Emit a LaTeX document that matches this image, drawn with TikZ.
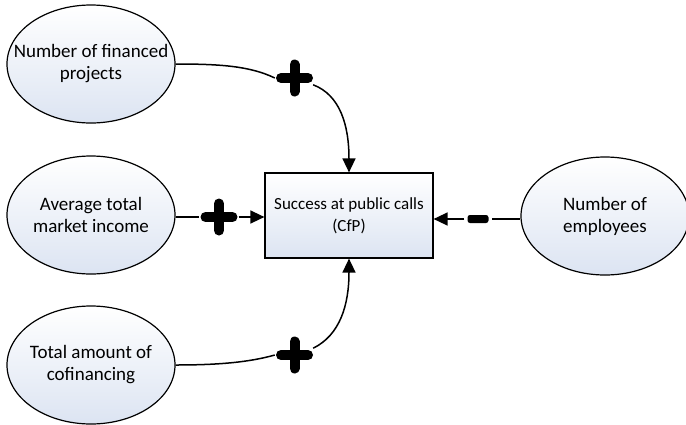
\documentclass[tikz,border=0pt]{standalone}
\usepackage{fontspec}
\setmainfont{Carlito}
\usetikzlibrary{shapes.geometric,arrows.meta}
\definecolor{fillTop}{HTML}{DCE4F2}
\definecolor{fillBot}{HTML}{FFFFFF}
\tikzset{
  ell/.style={ellipse, draw=black, line width=1.2pt, minimum width=168pt, minimum height=118pt, inner sep=0pt, top color=fillBot, bottom color=fillTop},
  etxt/.style={align=center, font=\fontsize{19}{22}\selectfont, inner sep=0pt},
  cfp/.style={rectangle, draw=black, line width=1.2pt, minimum width=168pt, minimum height=85pt, inner sep=0pt, top color=fillBot, bottom color=fillTop, align=center, font=\fontsize{17}{22}\selectfont},
  pluss/.style={minimum size=37pt, inner sep=0pt, path picture={
      \draw[line width=10pt, line cap=round] ([yshift=-5pt]path picture bounding box.north) -- ([yshift=5pt]path picture bounding box.south)
        ([xshift=5pt]path picture bounding box.west) -- ([xshift=-5pt]path picture bounding box.east);}},
  minuss/.style={rectangle, fill=black, rounded corners=2.5pt, minimum width=21pt, minimum height=8pt, inner sep=0pt},
  link/.style={line width=1.5pt},
  arr/.style={link, -{Triangle[length=14pt, width=13pt]}}
}
\begin{document}
\begin{tikzpicture}[x=1pt, y=-1pt]
\useasboundingbox (0,0) rectangle (686,424);
\node[ell] (e1) at (91,64) {};
\node[etxt] (t1) at (e1) {Number of financed\\projects};
\node[ell] (e2) at (91,215) {};
\node[etxt] (t2) at (e2) {Average total\\market income};
\node[ell] (e3) at (91,365) {};
\node[etxt] (t3) at (e3) {Total amount of\\cofinancing};
\node[ell] (e4) at (605,216) {};
\node[etxt] (t4) at (e4) {Number of\\employees};
\node[cfp] (box) at (349,215.5) {Success at public calls\\(CfP)};

\node[pluss] (p1) at (294.5,78) {};
\node[pluss] (p2) at (219,217) {};
\node[pluss] (p3) at (294.5,355) {};
\node[minuss] (m4) at (478,219) {};

\draw[link] (e1.east) .. controls (220,64) and (250,66) .. ([xshift=-1pt]p1.west);
\draw[arr] (p1.-20) .. controls (340,95) and (349,125) .. (box.north);
\draw[link] (e2.east |- p2.west) -- ([xshift=-1pt]p2.west);
\draw[arr] ([xshift=1pt]p2.east) -- (box.west |- p2.east);
\draw[link] (e3.east) .. controls (220,365) and (250,362) .. ([xshift=-1pt]p3.west);
\draw[arr] (p3.20) .. controls (340,335) and (349,305) .. (box.south);
\draw[link] (e4.west |- m4.east) -- ([xshift=3pt]m4.east);
\draw[arr] ([xshift=-3pt]m4.west) -- (box.east |- m4.west);
\end{tikzpicture}
\end{document}
